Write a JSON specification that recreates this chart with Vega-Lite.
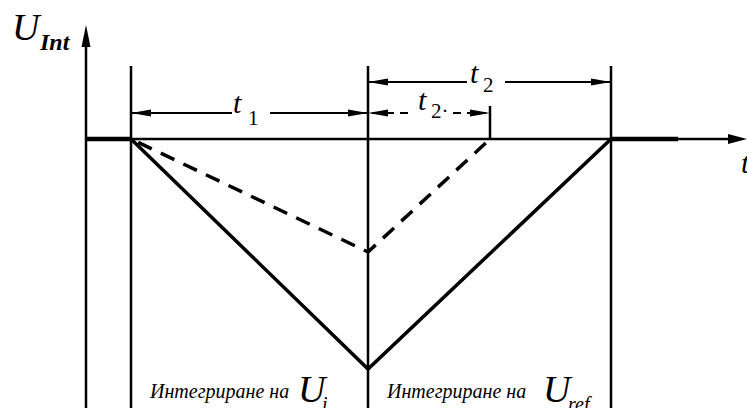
{
  "$schema": "https://vega.github.io/schema/vega-lite/v6.json",
  "width": 747,
  "height": 408,
  "padding": 0,
  "autosize": {"type": "none"},
  "background": "white",
  "config": {"view": {"stroke": null}},
  "datasets": {
    "segments": [
      {"kind": "frame", "t0": 86, "u0": -269, "t1": 86, "u1": 95},
      {"kind": "frame", "t0": 131, "u0": -269, "t1": 131, "u1": 73},
      {"kind": "frame", "t0": 368, "u0": -269, "t1": 368, "u1": 73},
      {"kind": "frame", "t0": 611, "u0": -269, "t1": 611, "u1": 73},
      {"kind": "frame", "t0": 490, "u0": 0, "t1": 490, "u1": 33},
      {"kind": "frame", "t0": 86, "u0": 0, "t1": 730, "u1": 0},
      {"kind": "dim", "t0": 131, "u0": 26, "t1": 232, "u1": 26},
      {"kind": "dim", "t0": 270, "u0": 26, "t1": 368, "u1": 26},
      {"kind": "dim", "t0": 368, "u0": 57, "t1": 467, "u1": 57},
      {"kind": "dim", "t0": 505, "u0": 57, "t1": 611, "u1": 57},
      {"kind": "dimDashed", "t0": 372, "u0": 26, "t1": 414, "u1": 26},
      {"kind": "dimDashed", "t0": 453, "u0": 26, "t1": 486, "u1": 26},
      {"kind": "base", "t0": 86, "u0": 0, "t1": 131, "u1": 0},
      {"kind": "base", "t0": 611, "u0": 0, "t1": 678, "u1": 0}
    ],
    "trace": [
      {"curve": "ref", "step": 0, "t": 131, "u": 0},
      {"curve": "ref", "step": 1, "t": 368, "u": -230},
      {"curve": "ref", "step": 2, "t": 611, "u": 0},
      {"curve": "half", "step": 0, "t": 131, "u": 0},
      {"curve": "half", "step": 1, "t": 368, "u": -113},
      {"curve": "half", "step": 2, "t": 490, "u": 0}
    ],
    "arrows": [
      {"t": 131, "u": 26, "dir": "left"},
      {"t": 368, "u": 26, "dir": "right"},
      {"t": 368, "u": 26, "dir": "left"},
      {"t": 490, "u": 26, "dir": "right"},
      {"t": 368, "u": 57, "dir": "left"},
      {"t": 611, "u": 57, "dir": "right"},
      {"t": 86, "u": 114, "dir": "axisUp"},
      {"t": 747, "u": 0, "dir": "axisRight"}
    ],
    "labels": [
      {"style": "symbol", "t": 12, "u": 110, "text": "U"},
      {"style": "symbol", "t": 298, "u": -252, "text": "U"},
      {"style": "symbol", "t": 543, "u": -252, "text": "U"},
      {"style": "time", "t": 233, "u": 35, "text": "t"},
      {"style": "time", "t": 470, "u": 65, "text": "t"},
      {"style": "time", "t": 418, "u": 38, "text": "t"},
      {"style": "time", "t": 741, "u": -25, "text": "t"},
      {"style": "index", "t": 248, "u": 20, "text": "1"},
      {"style": "index", "t": 483, "u": 53, "text": "2"},
      {"style": "index", "t": 431, "u": 27, "text": "2·"},
      {"style": "int", "t": 40, "u": 96, "text": "Int"},
      {"style": "caption", "t": 150, "u": -253, "text": "Интегриране на"},
      {"style": "caption", "t": 387, "u": -253, "text": "Интегриране на"},
      {"style": "capsub", "t": 322, "u": -266, "text": "i"},
      {"style": "capsub", "t": 568, "u": -266, "text": "ref"}
    ]
  },
  "encoding": {
    "x": {"type": "quantitative", "scale": {"domain": [0, 747], "nice": false, "zero": false}, "axis": null},
    "y": {"type": "quantitative", "scale": {"domain": [-269, 139], "nice": false, "zero": false}, "axis": null}
  },
  "layer": [
    {
      "data": {"name": "segments"},
      "transform": [{"filter": "datum.kind === 'frame'"}],
      "mark": {"type": "rule", "color": "black", "strokeWidth": 2.5},
      "encoding": {"x": {"field": "t0"}, "y": {"field": "u0"}, "x2": {"field": "t1"}, "y2": {"field": "u1"}}
    },
    {
      "data": {"name": "segments"},
      "transform": [{"filter": "datum.kind === 'base'"}],
      "mark": {"type": "rule", "color": "black", "strokeWidth": 4.5},
      "encoding": {"x": {"field": "t0"}, "y": {"field": "u0"}, "x2": {"field": "t1"}, "y2": {"field": "u1"}}
    },
    {
      "data": {"name": "segments"},
      "transform": [{"filter": "datum.kind === 'dim'"}],
      "mark": {"type": "rule", "color": "black", "strokeWidth": 2.2},
      "encoding": {"x": {"field": "t0"}, "y": {"field": "u0"}, "x2": {"field": "t1"}, "y2": {"field": "u1"}}
    },
    {
      "data": {"name": "segments"},
      "transform": [{"filter": "datum.kind === 'dimDashed'"}],
      "mark": {"type": "rule", "color": "black", "strokeWidth": 2.2, "strokeDash": [8, 6]},
      "encoding": {"x": {"field": "t0"}, "y": {"field": "u0"}, "x2": {"field": "t1"}, "y2": {"field": "u1"}}
    },
    {
      "data": {"name": "trace"},
      "transform": [{"filter": "datum.curve === 'ref'"}],
      "mark": {"type": "line", "color": "black", "strokeWidth": 3.5, "strokeJoin": "miter"},
      "encoding": {"x": {"field": "t"}, "y": {"field": "u"}, "order": {"field": "step"}}
    },
    {
      "data": {"name": "trace"},
      "transform": [{"filter": "datum.curve === 'half'"}],
      "mark": {"type": "line", "color": "black", "strokeWidth": 3.5, "strokeDash": [15, 10], "strokeDashOffset": -8, "strokeJoin": "miter"},
      "encoding": {"x": {"field": "t"}, "y": {"field": "u"}, "order": {"field": "step"}}
    },
    {
      "data": {"name": "arrows"},
      "mark": {"type": "point", "filled": true, "color": "black", "opacity": 1, "strokeWidth": 0, "size": 400},
      "encoding": {
        "x": {"field": "t"},
        "y": {"field": "u"},
        "shape": {
          "field": "dir",
          "type": "nominal",
          "legend": null,
          "scale": {
            "domain": ["left", "right", "axisUp", "axisRight"],
            "range": [
              "M0,0L2,-0.36L2,0.36Z",
              "M0,0L-2,-0.36L-2,0.36Z",
              "M0,0L-0.45,2.2L0.45,2.2Z",
              "M0,0L-1.9,-0.5L-1.9,0.5Z"
            ]
          }
        }
      }
    },
    {
      "data": {"name": "labels"},
      "transform": [{"filter": "datum.style === 'symbol'"}],
      "mark": {"type": "text", "align": "left", "font": "Liberation Serif", "fontStyle": "italic", "fontSize": 38},
      "encoding": {"x": {"field": "t"}, "y": {"field": "u"}, "text": {"field": "text"}}
    },
    {
      "data": {"name": "labels"},
      "transform": [{"filter": "datum.style === 'time'"}],
      "mark": {"type": "text", "align": "left", "font": "Liberation Serif", "fontStyle": "italic", "fontSize": 30},
      "encoding": {"x": {"field": "t"}, "y": {"field": "u"}, "text": {"field": "text"}}
    },
    {
      "data": {"name": "labels"},
      "transform": [{"filter": "datum.style === 'index'"}],
      "mark": {"type": "text", "align": "left", "font": "Liberation Serif", "fontSize": 21},
      "encoding": {"x": {"field": "t"}, "y": {"field": "u"}, "text": {"field": "text"}}
    },
    {
      "data": {"name": "labels"},
      "transform": [{"filter": "datum.style === 'int'"}],
      "mark": {"type": "text", "align": "left", "font": "Liberation Serif", "fontStyle": "italic", "fontWeight": "bold", "fontSize": 24},
      "encoding": {"x": {"field": "t"}, "y": {"field": "u"}, "text": {"field": "text"}}
    },
    {
      "data": {"name": "labels"},
      "transform": [{"filter": "datum.style === 'caption'"}],
      "mark": {"type": "text", "align": "left", "font": "Liberation Serif", "fontStyle": "italic", "fontSize": 20},
      "encoding": {"x": {"field": "t"}, "y": {"field": "u"}, "text": {"field": "text"}}
    },
    {
      "data": {"name": "labels"},
      "transform": [{"filter": "datum.style === 'capsub'"}],
      "mark": {"type": "text", "align": "left", "font": "Liberation Serif", "fontStyle": "italic", "fontSize": 20},
      "encoding": {"x": {"field": "t"}, "y": {"field": "u"}, "text": {"field": "text"}}
    }
  ]
}
